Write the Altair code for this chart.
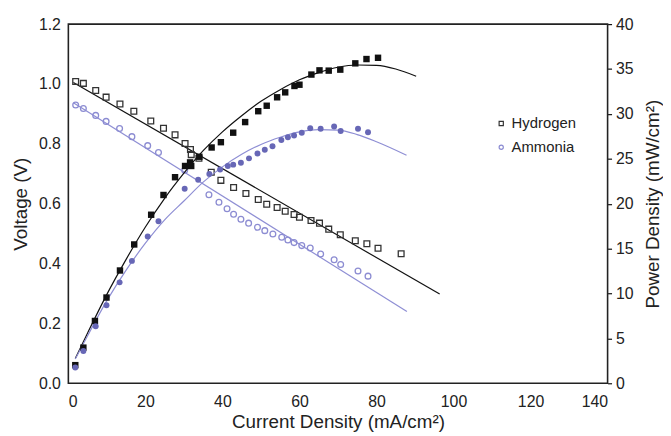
import altair as alt
import pandas as pd

# ---- data ----
h_v_x = [1.9, 3.9, 7.1, 9.8, 13.4, 17.0, 21.4, 24.7, 27.7, 30.3, 31.7, 31.9, 33.9, 37.1, 39.6, 42.9,
         46.1, 49.3, 51.5, 54.2, 56.3, 58.6, 60.0, 63.0, 65.2, 67.6, 70.6, 74.5, 77.5, 80.4, 86.4]
h_v = [1.008, 1.002, 0.978, 0.956, 0.933, 0.909, 0.876, 0.852, 0.830, 0.801, 0.781, 0.764, 0.752, 0.705,
       0.678, 0.654, 0.634, 0.614, 0.598, 0.587, 0.575, 0.564, 0.555, 0.544, 0.535, 0.515, 0.496, 0.476,
       0.466, 0.451, 0.433]

h_p_x = [1.8, 3.9, 6.9, 9.9, 13.4, 17.1, 21.5, 24.7, 27.7, 30.3, 31.6, 31.9, 34.0, 37.2, 39.6, 42.8,
         45.9, 49.3, 51.5, 54.2, 56.3, 58.7, 60.0, 63.1, 65.2, 67.6, 70.6, 74.5, 77.4, 80.4]
h_p = [2.02, 3.97, 6.94, 9.55, 12.56, 15.46, 18.77, 20.97, 22.95, 24.2, 24.6, 24.2, 25.23, 26.26, 26.85,
       27.91, 29.09, 30.30, 30.91, 31.85, 32.40, 33.11, 33.25, 34.38, 34.85, 34.82, 34.93, 35.63, 36.11, 36.25]

a_v_x = [1.9, 3.9, 7.1, 9.8, 13.3, 16.5, 20.6, 23.4, 30.2, 36.5, 39.1, 41.2, 42.9, 44.8, 46.8, 49.1,
         51.0, 53.1, 55.4, 57.0, 58.6, 60.6, 62.8, 65.5, 69.0, 70.7, 75.2, 77.8]
a_v = [0.930, 0.918, 0.895, 0.875, 0.851, 0.824, 0.794, 0.771, 0.712, 0.630, 0.605, 0.583, 0.565, 0.548,
       0.535, 0.521, 0.510, 0.499, 0.488, 0.479, 0.470, 0.460, 0.452, 0.432, 0.413, 0.397, 0.375, 0.358]

a_p_x = [1.8, 3.9, 7.1, 9.9, 13.3, 16.5, 20.6, 23.4, 30.2, 33.7, 36.6, 39.4, 41.4, 42.8, 44.8, 46.9,
         49.1, 51.0, 53.0, 55.3, 57.0, 58.6, 60.6, 62.8, 65.5, 69.0, 70.7, 75.2, 77.8]
a_p = [1.76, 3.6, 6.36, 8.7, 11.24, 13.63, 16.34, 18.04, 21.67, 22.67, 23.3, 23.8, 24.2, 24.35, 24.55,
       25.05, 25.6, 26.0, 26.4, 27.1, 27.4, 27.6, 27.9, 28.4, 28.35, 28.6, 28.1, 28.35, 27.95]

# fitted curves
h_fit_v_x = [1.3, 96.4]
h_fit_v = [1.005, 0.298]
a_fit_v_x = [1.3, 87.9]
a_fit_v = [0.937, 0.240]
h_fit_p_x = [1.8, 5, 10, 15, 20, 25, 30, 35, 40, 45, 50, 55, 60, 65, 70, 75, 80, 85, 90.3]
h_fit_p = [2.75, 5.6, 9.9, 13.8, 17.4, 20.6, 23.4, 25.9, 28.0, 29.8, 31.4, 32.7, 33.8, 34.6, 35.2,
           35.45, 35.4, 35.0, 34.2]
a_fit_p_x = [1.8, 5, 10, 15, 20, 25, 30, 35, 40, 45, 50, 55, 60, 65, 70, 75, 80, 87.8]
a_fit_p = [2.7, 5.3, 9.2, 12.6, 15.6, 18.2, 20.3, 22.4, 24.1, 25.5, 26.6, 27.4, 28.0, 28.25, 28.2,
           27.7, 26.9, 25.4]

series = ["Hydrogen", "Ammonia"]
x_ticks = [0, 20, 40, 60, 80, 100, 120, 140]
v_ticks = [0.0, 0.2, 0.4, 0.6, 0.8, 1.0, 1.2]
p_ticks = [0, 5, 10, 15, 20, 25, 30, 35, 40]

BLACK = "#111111"
BLUE_DOT = "#6767b6"
BLUE_OPEN = "#8c8cd2"
BLUE_LINE = "#8e8ed4"
FONT = "Liberation Sans"

# ---- tables ----
volt_df = pd.concat([
    pd.DataFrame({"I": h_v_x, "V": h_v, "series": "Hydrogen"}),
    pd.DataFrame({"I": a_v_x, "V": a_v, "series": "Ammonia"}),
])
hp_df = pd.DataFrame({"I": h_p_x, "P": h_p})
ap_df = pd.DataFrame({"I": a_p_x, "P": a_p})
hfv_df = pd.DataFrame({"I": h_fit_v_x, "V": h_fit_v})
afv_df = pd.DataFrame({"I": a_fit_v_x, "V": a_fit_v})
hfp_df = pd.DataFrame({"I": h_fit_p_x, "P": h_fit_p})
afp_df = pd.DataFrame({"I": a_fit_p_x, "P": a_fit_p})

x_enc = alt.X("I:Q", scale=alt.Scale(domain=[0, 140], nice=False),
              axis=alt.Axis(values=x_ticks, title="Current Density (mA/cm²)", ticks=False, domain=False,
                            grid=False, labelPadding=10, titlePadding=4))
v_scale = alt.Scale(domain=[0, 1.2], nice=False)
v_axis = alt.Axis(values=v_ticks, format=".1f", title="Voltage (V)", orient="left", ticks=False,
                  domain=False, grid=False, labelPadding=8, titlePadding=8)
p_scale = alt.Scale(domain=[0, 40], nice=False)
p_axis = alt.Axis(values=p_ticks, title="Power Density (mW/cm²)", orient="right", ticks=True, tickSize=4,
                  tickColor=BLACK, tickWidth=1.2, domain=False, grid=False, labelPadding=4,
                  titlePadding=11, titleAngle=270, titleBaseline="top")

leg = alt.Legend(title=None, orient="none", legendX=430, legendY=93,
                 labelFontSize=15, symbolSize=18, symbolStrokeWidth=1.2,
                 rowPadding=8, labelOffset=3)

volt_pts = alt.Chart(volt_df).mark_point(filled=False, strokeWidth=1.3, opacity=1).encode(
    x=x_enc,
    y=alt.Y("V:Q", scale=v_scale, axis=v_axis),
    shape=alt.Shape("series:N", scale=alt.Scale(domain=series, range=["square", "circle"]), legend=leg),
    color=alt.Color("series:N", scale=alt.Scale(domain=series, range=["#333333", BLUE_OPEN]), legend=leg),
    size=alt.value(34),
)

hfv = alt.Chart(hfv_df).mark_line(color=BLACK, strokeWidth=1.2).encode(
    x="I:Q", y=alt.Y("V:Q", scale=v_scale))
afv = alt.Chart(afv_df).mark_line(color=BLUE_LINE, strokeWidth=1.2).encode(
    x="I:Q", y=alt.Y("V:Q", scale=v_scale))

hp = alt.Chart(hp_df).mark_square(color=BLACK, opacity=1, size=42).encode(
    x="I:Q", y=alt.Y("P:Q", scale=p_scale, axis=p_axis))
ap = alt.Chart(ap_df).mark_circle(color=BLUE_DOT, opacity=1, size=36).encode(
    x="I:Q", y=alt.Y("P:Q", scale=p_scale))
hfp = alt.Chart(hfp_df).mark_line(color=BLACK, strokeWidth=1.2, interpolate="monotone").encode(
    x="I:Q", y=alt.Y("P:Q", scale=p_scale))
afp = alt.Chart(afp_df).mark_line(color=BLUE_LINE, strokeWidth=1.2, interpolate="monotone").encode(
    x="I:Q", y=alt.Y("P:Q", scale=p_scale))

left = alt.layer(hfv, afv, volt_pts)
right = alt.layer(hfp, afp, hp, ap)

chart = alt.layer(left, right).resolve_scale(y="independent").properties(
    width=545, height=363,
    autosize=alt.AutoSizeParams(type="none"),
    padding={"left": 61, "top": 14, "right": 56, "bottom": 51},
).configure_view(
    stroke="#222222", strokeWidth=1.6
).configure_axis(
    labelFont=FONT, titleFont=FONT, labelFontSize=16, titleFontSize=19,
    labelColor="#222222", titleColor="#222222", titleFontWeight="normal"
).configure_legend(
    labelFont=FONT, labelColor="#222222"
)

chart.save("out.html", embed_options={"renderer": "svg", "actions": False})
